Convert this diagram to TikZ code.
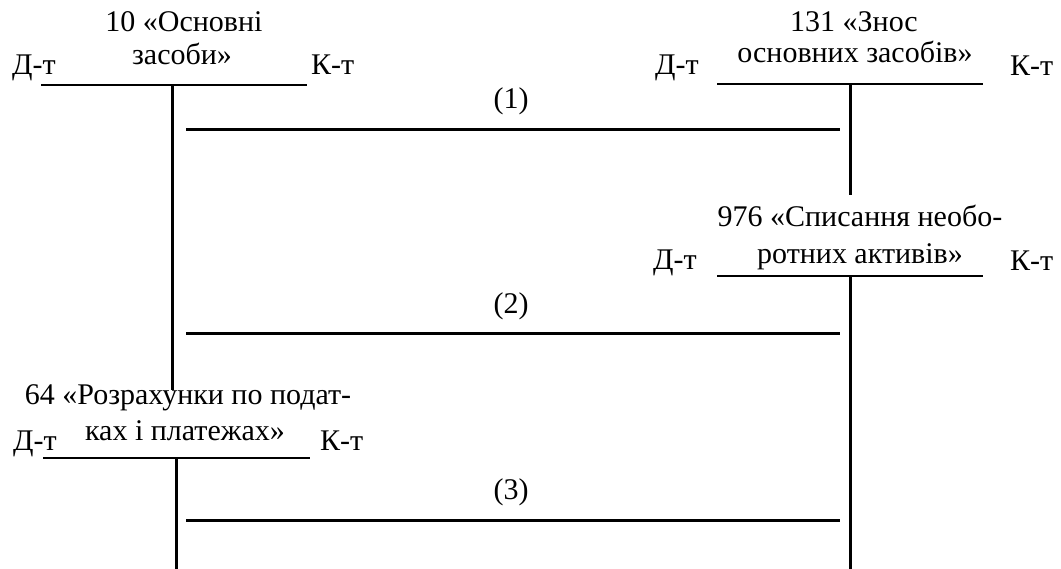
\documentclass[tikz,border=0pt]{standalone}
\usepackage{fontspec}
\setmainfont{Liberation Serif}
\begin{document}
\begin{tikzpicture}[x=1pt,y=-1pt,
  txt/.style={font=\fontsize{30}{36}\selectfont, inner sep=0pt, anchor=base},
  side/.style={txt, anchor=base west},
  tline/.style={line width=2pt},
  vline/.style={line width=3pt},
  opline/.style={line width=3pt},
  oplabel/.style={font=\fontsize{30}{36}\selectfont, inner sep=0pt}]
\useasboundingbox (0,0) rectangle (1061,569);

% --- account 10
\node[txt] (a10t1) at (184,32) {10 «Основні};
\node[txt] (a10t2) at (182,65) {засоби»};
\node[side] (a10d) at (12,75) {Д-т};
\node[side] (a10k) at (311,75) {К-т};
\coordinate (a10l) at (41,85);
\coordinate (a10r) at (307,85);
\coordinate (a10top) at (172,85);
\coordinate (a10bot) at (172,390);
\draw[tline] (a10l) -- (a10r);
\draw[vline] (a10top) -- (a10bot);

% --- account 131
\node[txt] (a131t1) at (854,32) {131 «Знос};
\node[txt] (a131t2) at (855,63) {основних засобів»};
\node[side] (a131d) at (655,75) {Д-т};
\node[side] (a131k) at (1010,76) {К-т};
\coordinate (a131l) at (717,84);
\coordinate (a131r) at (983,84);
\coordinate (a131top) at (850,84);
\coordinate (a131bot) at (850,195);
\draw[tline] (a131l) -- (a131r);
\draw[vline] (a131top) -- (a131bot);

% --- account 976
\node[txt] (a976t1) at (860,227) {976 «Списання необо-};
\node[txt] (a976t2) at (860,264) {ротних активів»};
\node[side] (a976d) at (653,270) {Д-т};
\node[side] (a976k) at (1010,271) {К-т};
\coordinate (a976l) at (717,276);
\coordinate (a976r) at (983,276);
\coordinate (a976top) at (850,276);
\coordinate (a976bot) at (850,569);
\draw[tline] (a976l) -- (a976r);
\draw[vline] (a976top) -- (a976bot);

% --- account 64
\node[txt] (a64t1) at (188,405) {64 «Розрахунки по подат-};
\node[txt] (a64t2) at (185,440) {ках і платежах»};
\node[side] (a64d) at (13,450) {Д-т};
\node[side] (a64k) at (320,450) {К-т};
\coordinate (a64l) at (43,458);
\coordinate (a64r) at (310,458);
\coordinate (a64top) at (176,458);
\coordinate (a64bot) at (176,569);
\draw[tline] (a64l) -- (a64r);
\draw[vline] (a64top) -- (a64bot);

% --- operations
\coordinate (op1a) at (186,130);
\coordinate (op1b) at (840,130);
\draw[opline] (op1a) -- (op1b);
\node[oplabel] (op1) at (511,101) {(1)};

\coordinate (op2a) at (186,334);
\coordinate (op2b) at (840,334);
\draw[opline] (op2a) -- (op2b);
\node[oplabel] (op2) at (511,306) {(2)};

\coordinate (op3a) at (186,520);
\coordinate (op3b) at (840,520);
\draw[opline] (op3a) -- (op3b);
\node[oplabel] (op3) at (511,492) {(3)};
\end{tikzpicture}
\end{document}
